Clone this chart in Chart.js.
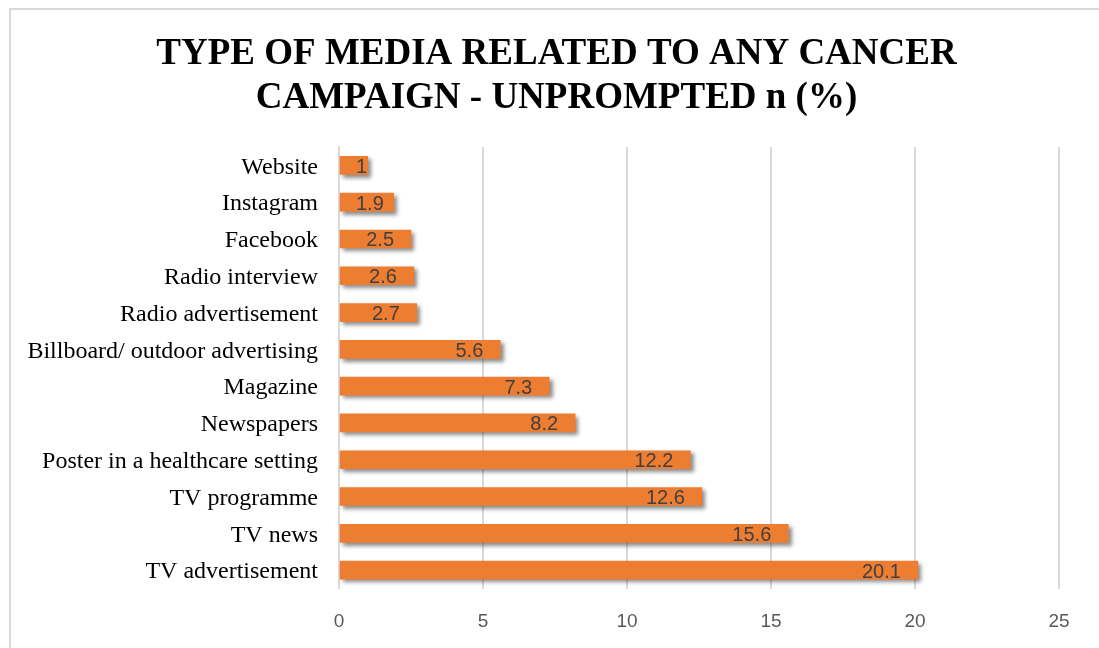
<!DOCTYPE html>
<html lang="en">
<head>
  <meta charset="UTF-8">
  <title>Type of media related to any cancer campaign</title>
  <script src="https://cdn.jsdelivr.net/npm/chart.js"></script>
  <style>
    body { margin: 0; background: #fff; }
    .frame {
      position: absolute; left: 9px; top: 8px; width: 1300px; height: 900px;
      border-left: 2px solid #d9d9d9; border-top: 2px solid #d9d9d9;
    }
    canvas { position: absolute; left: 0; top: 0; }
  </style>
</head>
<body>
  <div class="frame"></div>
  <canvas id="mediaChart" width="1099" height="648"></canvas>

  <script>
    // Dane z wykresu (od góry do dołu)
    const mediaTypes = [
      'Website', 'Instagram', 'Facebook', 'Radio interview', 'Radio advertisement',
      'Billboard/ outdoor advertising', 'Magazine', 'Newspapers',
      'Poster in a healthcare setting', 'TV programme', 'TV news', 'TV advertisement'
    ];
    const percentValues = [1, 1.9, 2.5, 2.6, 2.7, 5.6, 7.3, 8.2, 12.2, 12.6, 15.6, 20.1];
    const titleLines = ['TYPE OF MEDIA RELATED TO ANY CANCER', 'CAMPAIGN - UNPROMPTED n (%)'];

    // tytuł wykresu (rysowany ręcznie, lekko przesunięty w prawo jak w oryginale)
    const chartTitle = {
      id: 'chartTitle',
      afterDraw(chart) {
        const ctx = chart.ctx;
        ctx.save();
        ctx.font = 'bold 37px "Liberation Serif", "Times New Roman", serif';
        ctx.fillStyle = '#000';
        ctx.textAlign = 'center';
        ctx.textBaseline = 'middle';
        titleLines.forEach((line, i) => {
          ctx.fillText(line, chart.width / 2 + 7, 54 + i * 44);
        });
        ctx.restore();
      }
    };

    // cień pod słupkami
    const barShadow = {
      id: 'barShadow',
      beforeDatasetsDraw(chart) {
        const ctx = chart.ctx;
        ctx.save();
        ctx.shadowColor = 'rgba(0,0,0,0.45)';
        ctx.shadowBlur = 4;
        ctx.shadowOffsetX = 3;
        ctx.shadowOffsetY = 3;
      },
      afterDatasetsDraw(chart) {
        chart.ctx.restore();
      }
    };

    // etykiety wartości wewnątrz końca słupka
    const valueLabels = {
      id: 'valueLabels',
      afterDatasetsDraw(chart) {
        const ctx = chart.ctx;
        const meta = chart.getDatasetMeta(0);
        ctx.save();
        ctx.font = '20px "Liberation Sans", sans-serif';
        ctx.fillStyle = '#404040';
        ctx.textAlign = 'right';
        ctx.textBaseline = 'middle';
        meta.data.forEach((bar, i) => {
          const txt = String(percentValues[i]);
          const w = ctx.measureText(txt).width;
          const right = Math.max(bar.x - 17, bar.base + 16 + w);
          ctx.fillText(txt, right, bar.y + 2);
        });
        ctx.restore();
      }
    };

    new Chart(document.getElementById('mediaChart'), {
      type: 'bar',
      data: {
        labels: mediaTypes,
        datasets: [{
          data: percentValues,
          backgroundColor: '#ED7D31',
          borderWidth: 0,
          barThickness: 18
        }]
      },
      options: {
        indexAxis: 'y',
        responsive: false,
        animation: false,
        layout: { padding: { left: 13, right: 40, top: 147, bottom: 0 } },
        plugins: {
          legend: { display: false },
          tooltip: { enabled: false },
          title: { display: false }
        },
        scales: {
          x: {
            min: 0,
            max: 25,
            ticks: {
              stepSize: 5,
              color: '#595959',
              padding: 22,
              font: { family: '"Liberation Sans", sans-serif', size: 19 }
            },
            grid: { color: '#d9d9d9', lineWidth: 2, drawTicks: false },
            border: { display: false },
            afterFit(scale) { scale.height = 59.5; }
          },
          y: {
            ticks: {
              color: '#000',
              padding: 21,
              labelOffset: 2,
              font: { family: '"Liberation Serif", "Times New Roman", serif', size: 24 }
            },
            grid: { display: false, drawTicks: false },
            border: { display: true, color: '#d9d9d9', width: 2 },
            afterFit(scale) { scale.width = 326; }
          }
        }
      },
      plugins: [barShadow, valueLabels, chartTitle]
    });
  </script>
</body>
</html>
